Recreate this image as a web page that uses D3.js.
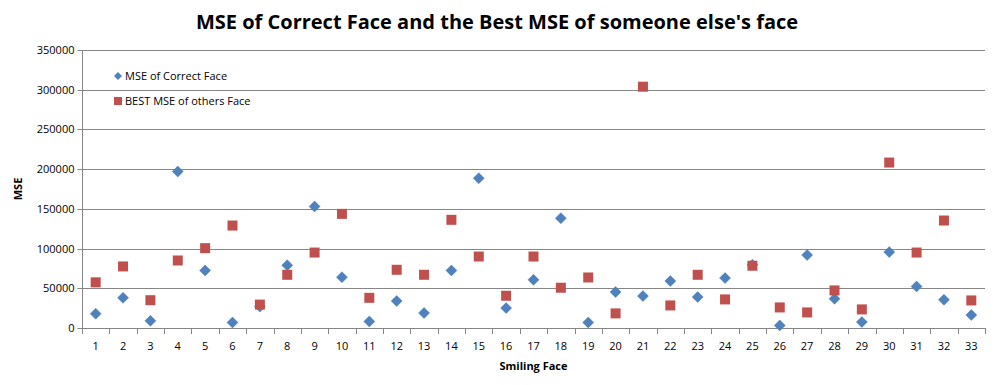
<!DOCTYPE html>
<html><head><meta charset="utf-8">
<script src="https://cdn.jsdelivr.net/npm/d3@7"></script>
<style>body{margin:0;background:#fff}svg{display:block}text{font-family:"Liberation Sans",Arial,sans-serif;fill:#000}</style>
</head><body><svg id="c" width="995" height="385"></svg>
<script>
const categories = d3.range(1, 34).map(String);
const correctFace = [18000,38000,9000,197000,72500,7000,27000,79000,153000,64000,8300,34000,18900,72500,188600,25100,60700,138300,7000,45300,40200,59100,39000,62900,79600,3300,91800,36800,7500,95600,52300,35600,16300];
const othersFace = [57500,77500,35000,85000,100500,129000,29500,67000,95000,143700,38000,73300,67000,136200,90000,40600,90000,50700,63600,18400,303800,28400,67000,36000,78400,25900,19600,47300,23400,208300,95000,135300,34700];
const yTicks = [0,50000,100000,150000,200000,250000,300000,350000];
const seriesNames = ["MSE of Correct Face","BEST MSE of others Face"];

const svg = d3.select("#c");
const L=82, R=985, T=50, B=328;
const x = d3.scaleBand().domain(categories).range([L,R]);
const y = d3.scaleLinear().domain([0,350000]).range([B,T]);
const grid="#868686";

svg.append("text").attr("x",497).attr("y",29).attr("text-anchor","middle")
  .style("font-size","20px").style("font-weight","bold").style("font-family","'Open Sans',sans-serif")
  .text("MSE of Correct Face and the Best MSE of someone else's face");

// gridlines
svg.append("g").selectAll("line").data(yTicks.filter(d=>d>0)).join("line")
  .attr("x1",L).attr("x2",R).attr("y1",d=>Math.round(y(d))+0.5).attr("y2",d=>Math.round(y(d))+0.5)
  .attr("stroke",grid).attr("stroke-width",1);

const ya = svg.append("g").attr("transform",`translate(${L+0.5},0)`)
  .call(d3.axisLeft(y).tickValues(yTicks).tickSize(5).tickPadding(3).tickFormat(d3.format("d")));
ya.select(".domain").attr("stroke",grid).attr("d",`M0,${T}V${B}`);
ya.selectAll(".tick line").attr("stroke",grid);
ya.selectAll(".tick text").style("font-size","11px").style("font-family","'Open Sans',sans-serif").attr("fill","#000");
ya.selectAll(".tick").attr("transform",d=>`translate(0,${Math.round(y(d))+0.5})`);

// x axis
const xg = svg.append("g");
xg.append("line").attr("x1",L).attr("x2",R).attr("y1",B+0.5).attr("y2",B+0.5).attr("stroke",grid);
const bounds = categories.map((c)=>x(c)).concat([R]);
xg.selectAll("line.t").data(bounds).join("line").attr("class","t")
  .attr("x1",d=>Math.round(d)+0.5).attr("x2",d=>Math.round(d)+0.5).attr("y1",B).attr("y2",B+6).attr("stroke",grid);
xg.selectAll("text").data(categories).join("text")
  .attr("x",d=>x(d)+x.bandwidth()/2).attr("y",B+22).attr("text-anchor","middle")
  .style("font-size","11px").style("font-family","'Open Sans',sans-serif").text(d=>d);

svg.append("text").attr("x",(L+R)/2).attr("y",370).attr("text-anchor","middle")
  .style("font-size","11px").style("font-weight","bold").style("font-family","'Open Sans',sans-serif").text("Smiling Face");
svg.append("text").attr("transform","translate(22,189) rotate(-90)").attr("text-anchor","middle")
  .style("font-size","11px").style("font-weight","bold").style("font-family","'Open Sans',sans-serif").text("MSE");

const cx = (d,i)=>x(categories[i])+x.bandwidth()/2;
const diamond = "M0,-5.5L5.5,0L0,5.5L-5.5,0Z";
svg.append("g").selectAll("path").data(correctFace).join("path")
  .attr("d",diamond).attr("transform",(d,i)=>`translate(${cx(d,i)},${y(d)})`)
  .attr("fill","#4F81BD").attr("stroke","#4A7EBB").attr("stroke-width",0.5);
svg.append("g").selectAll("rect").data(othersFace).join("rect")
  .attr("x",(d,i)=>cx(d,i)-5).attr("y",d=>y(d)-5).attr("width",10).attr("height",10)
  .attr("fill","#C0504D");

// legend
const lg = svg.append("g");
lg.append("path").attr("d","M0,-4L4,0L0,4L-4,0Z").attr("transform","translate(118,76)").attr("fill","#4F81BD");
lg.append("rect").attr("x",114).attr("y",97).attr("width",8).attr("height",8).attr("fill","#C0504D");
lg.selectAll("text").data(seriesNames).join("text")
  .attr("x",125).attr("y",(d,i)=>80+i*25).style("font-size","11px").style("font-family","'Open Sans',sans-serif").text(d=>d);
</script></body></html>
